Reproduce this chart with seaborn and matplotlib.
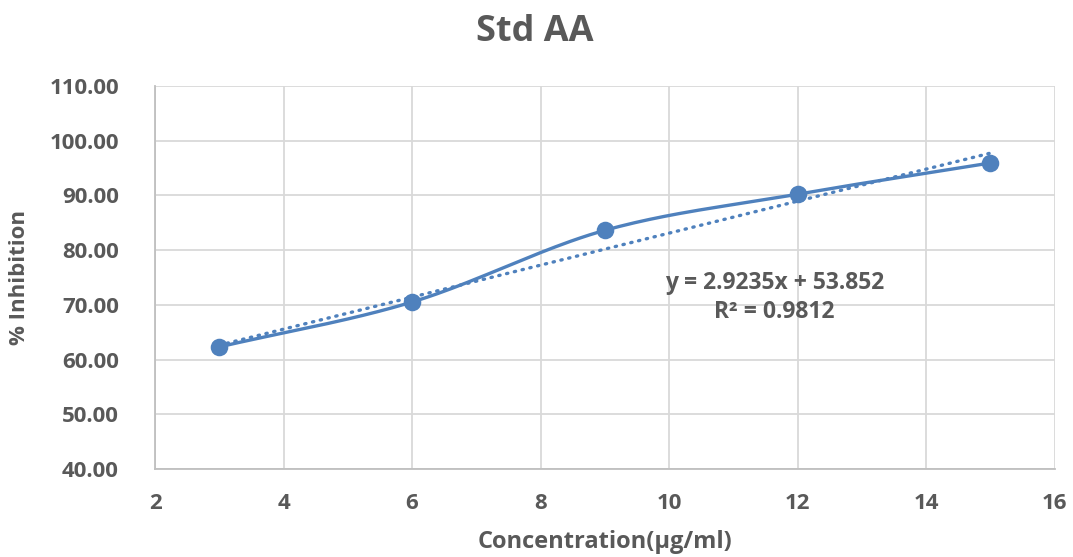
import numpy as np
import pandas as pd
import matplotlib
matplotlib.use("Agg")
import matplotlib.pyplot as plt
import seaborn as sns

concentration = [3, 6, 9, 12, 15]
inhibition = [62.3, 70.5, 83.6, 90.2, 95.9]
trend_slope = 2.9235
trend_intercept = 53.852
r_squared = 0.9812
x_ticks = [2, 4, 6, 8, 10, 12, 14, 16]
y_ticks = [40, 50, 60, 70, 80, 90, 100, 110]

sns.set_theme(style="white")
plt.rcParams['font.family'] = ['Open Sans', 'DejaVu Sans']

TEXT = "#595959"
BLUE = "#4F81BD"
GRID = "#D9D9D9"

df = pd.DataFrame({"x": concentration, "y": inhibition})

# Smoothed curve (Catmull-Rom through the data points, like Excel smoothing)
def catmull_rom(xs, ys, n=40):
    px = np.array(xs, float); py = np.array(ys, float)
    px = np.concatenate([[2*px[0]-px[1]], px, [2*px[-1]-px[-2]]])
    py = np.concatenate([[2*py[0]-py[1]], py, [2*py[-1]-py[-2]]])
    ox, oy = [], []
    for i in range(1, len(px)-2):
        t = np.linspace(0, 1, n)
        for arr, out in ((px, ox), (py, oy)):
            p0, p1, p2, p3 = arr[i-1], arr[i], arr[i+1], arr[i+2]
            out.extend(0.5*((2*p1) + (-p0+p2)*t + (2*p0-5*p1+4*p2-p3)*t**2 + (-p0+3*p1-3*p2+p3)*t**3))
    return np.array(ox), np.array(oy)

sx, sy = catmull_rom(concentration, inhibition)
smooth = pd.DataFrame({"x": sx, "y": sy})

fig = plt.figure(figsize=(10.73, 5.57), dpi=100)
ax = fig.add_axes([0.1445, 0.158, 0.8385, 0.688])

tx = np.array([concentration[0], concentration[-1]], float)
trend = pd.DataFrame({"x": tx, "y": trend_slope*tx + trend_intercept})
sns.lineplot(data=trend, x="x", y="y", ax=ax, color=BLUE, lw=2.4,
             linestyle=(0, (0.4, 2.0)), dash_capstyle="round", sort=False)
sns.lineplot(data=smooth, x="x", y="y", ax=ax, color=BLUE, lw=2.4, sort=False)
sns.scatterplot(data=df, x="x", y="y", ax=ax, color=BLUE, s=160, edgecolor=BLUE, linewidth=0, zorder=5)

ax.set_xlim(2, 16)
ax.set_ylim(40, 110)
ax.set_xticks(x_ticks)
ax.set_yticks(y_ticks)
ax.set_yticklabels([f"{v:.2f}" for v in y_ticks])
ax.grid(True, color=GRID, lw=1.3)
ax.set_axisbelow(True)
for s in ["top", "right"]:
    ax.spines[s].set_visible(False)
for s in ["left", "bottom"]:
    ax.spines[s].set_color("#BFBFBF")
    ax.spines[s].set_linewidth(1.3)
ax.tick_params(axis="both", length=0, labelsize=16, labelcolor=TEXT)
ax.tick_params(axis="y", pad=26)
ax.tick_params(axis="x", pad=17)
for lab in ax.get_xticklabels() + ax.get_yticklabels():
    lab.set_fontweight("bold")

ax.set_xlabel("Concentration(µg/ml)", fontsize=17, fontweight="bold", color=TEXT, labelpad=12)
ax.set_ylabel("% Inhibition", fontsize=16, fontweight="bold", color=TEXT, labelpad=14)
fig.suptitle("Std AA", x=0.498, y=0.975, fontsize=26, fontweight="bold", color=TEXT)

ax.text(11.64, 74.0, f"y = {trend_slope}x + {trend_intercept}", ha="center", va="center",
        fontsize=16.5, fontweight="bold", color=TEXT)
ax.text(11.64, 68.7, f"R² = {r_squared}", ha="center", va="center",
        fontsize=16.5, fontweight="bold", color=TEXT)

fig.savefig("out.png", dpi=100, facecolor="white")
